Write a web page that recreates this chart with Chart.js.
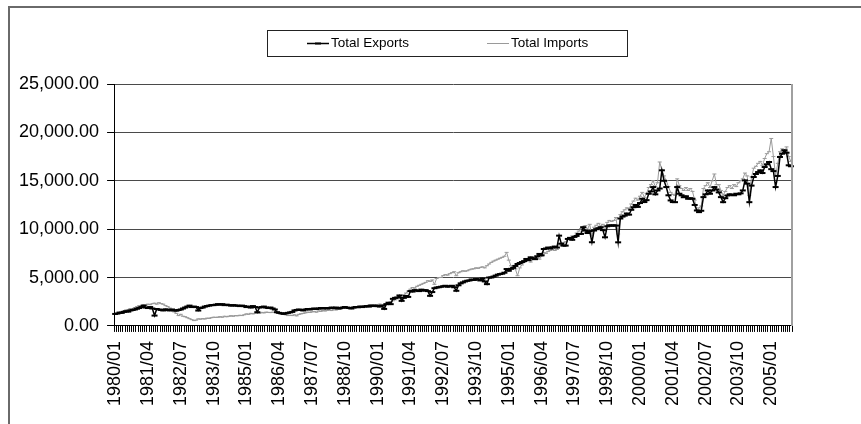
<!DOCTYPE html>
<html>
<head>
<meta charset="utf-8">
<title>Total Exports and Imports</title>
<script src="https://cdn.jsdelivr.net/npm/chart.js@4.4.1/dist/chart.umd.min.js"></script>
<style>
  html, body { margin: 0; padding: 0; background: #fff; overflow: hidden; }
  #frame { position: absolute; left: 8px; top: 6px; width: 1200px; height: 800px; border: 2px solid #6a6a6a; }
  #chart { position: absolute; left: 0; top: 0; }
</style>
</head>
<body>
<div id="frame"></div>
<canvas id="chart" width="861" height="424"></canvas>
<script>
// monthly series, 1980/01 .. 2005/10 (one row per year)
const startYear = 1980;
const monthCount = 310;
const labelStep = 15;

const exportsData = [
  1240, 1280, 1380, 1350, 1450, 1520, 1480, 1600, 1650, 1700, 1780, 1850,
  1950, 2100, 1900, 1850, 1950, 1800, 1070, 1750, 1700, 1650, 1600, 1720,
  1650, 1600, 1700, 1620, 1580, 1650, 1700, 1800, 1900, 2000, 2100, 1950,
  2000, 1950, 1590, 1850, 1900, 2000, 2050, 2100, 2150, 2150, 2200, 2250,
  2200, 2250, 2150, 2200, 2150, 2100, 2150, 2100, 2100, 2050, 2100, 2050,
  1950, 2000, 1900, 2050, 1950, 1420, 1900, 1950, 2000, 1900, 1850, 1900,
  1800, 1700, 1420, 1350, 1300, 1250, 1300, 1350, 1400, 1450, 1600, 1650,
  1700, 1650, 1600, 1700, 1750, 1700, 1760, 1800, 1750, 1800, 1850, 1800,
  1850, 1800, 1850, 1900, 1850, 1900, 1800, 1850, 1900, 1950, 1900, 1850,
  1800, 1900, 1950, 1930, 2000, 1950, 2000, 2050, 2000, 2100, 2050, 2100,
  2050, 2000, 2100, 1760, 2250, 2400, 2250, 2800, 2900, 2940, 3150, 2590,
  2900, 3100, 3000, 3600, 3550, 3700, 3650, 3600, 3750, 3650, 3700, 3600,
  3110, 3500, 3900, 3970, 4000, 4050, 4100, 4150, 4050, 4100, 4150, 4000,
  3630, 4200, 4400, 4500, 4600, 4670, 4700, 4800, 4750, 4840, 4800, 4700,
  4900, 4600, 4320, 5000, 5010, 5100, 5200, 5300, 5360, 5400, 5500, 5880,
  5700, 5900, 6000, 6200, 6400, 6500, 6600, 6700, 6920, 6800, 7090, 7000,
  6900, 7200, 7440, 7300, 7950, 8000, 8100, 8000, 8120, 8200, 8100, 9330,
  8500, 8300, 8300, 8990, 9100, 8900, 9200, 9300, 9500, 9510, 10200, 9850,
  9600, 9800, 8650, 9860, 10000, 10100, 10200, 9900, 9160, 10300, 10400, 10350,
  10400, 10370, 8640, 11100, 11300, 11400, 11620, 11500, 12000, 12270, 12500, 12300,
  12700, 13140, 12800, 13000, 13660, 13900, 14350, 13600, 14000, 14200, 16080, 15000,
  14350, 13500, 12970, 12800, 12790, 14350, 13660, 13500, 13300, 13400, 13140, 13200,
  13140, 12500, 11930, 11760, 11900, 13310, 13600, 14000, 13660, 14000, 14350, 14100,
  13800, 13310, 12790, 13200, 13480, 13600, 13550, 13500, 13660, 13600, 13700, 14000,
  15040, 14700, 12790, 14500, 15390, 15700, 15900, 16080, 15800, 16420, 16700, 16940,
  16200, 16000, 14350, 15500, 17460, 17800, 18150, 17900, 16600, 16500
];

const importsData = [
  1240, 1300, 1400, 1500, 1550, 1650, 1700, 1800, 1750, 1900, 2000, 2100,
  2050, 2200, 2150, 2250, 2200, 2300, 2350, 2250, 2400, 2300, 2250, 2100,
  2000, 1850, 1700, 1450, 1300, 1070, 1200, 1000, 950, 850, 750, 650,
  550, 600, 730, 700, 750, 720, 800, 780, 850, 900, 880, 900,
  950, 900, 1000, 950, 1000, 1050, 1000, 1070, 1050, 1100, 1070, 1150,
  1240, 1200, 1300, 1250, 1300, 1350, 1300, 1400, 1350, 1420, 1400, 1380,
  1420, 1380, 1350, 1300, 1250, 1200, 1150, 1070, 1100, 1070, 1150, 1040,
  1200, 1250, 1300, 1350, 1420, 1400, 1450, 1500, 1420, 1550, 1500, 1590,
  1550, 1600, 1650, 1590, 1700, 1650, 1760, 1700, 1800, 1850, 1800, 1900,
  1850, 1950, 1900, 2000, 2050, 2000, 2100, 2050, 2150, 2200, 2100, 2200,
  2150, 2250, 2200, 2200, 2300, 2400, 2500, 2600, 2700, 2800, 2950, 3110,
  3200, 3400, 3600, 3800, 3970, 3900, 4100, 4200, 4300, 4400, 4500, 4670,
  4600, 4750, 4300, 4900, 5000, 5010, 5200, 5300, 5250, 5400, 5500, 5600,
  5190, 5500, 5600, 5700, 5650, 5700, 5800, 5880, 5900, 6000, 5950, 6050,
  6100, 6000, 6220, 6400, 6570, 6700, 6800, 6900, 7000, 7090, 7200, 7600,
  6800, 6220, 6000, 5880, 5190, 6000, 6300, 6570, 6700, 6800, 6600, 6900,
  7000, 7090, 6900, 7200, 7600, 7500, 7700, 7800, 7950, 7800, 7900, 8500,
  8300, 8600, 8700, 9000, 9100, 9300, 9200, 9600, 9800, 10060, 10200, 10370,
  10000, 10500, 9300, 10200, 10400, 10600, 10300, 10500, 9800, 10700, 10900, 10800,
  10900, 11200, 9500, 11500, 11800, 12000, 12200, 12100, 12600, 12900, 13200, 13000,
  13400, 13800, 13300, 13700, 14300, 14600, 15000, 14400, 14800, 16940, 16080, 15500,
  15000, 14400, 13800, 13600, 13500, 15200, 14500, 14200, 14000, 14300, 14000, 14200,
  13900, 13000, 12000, 12200, 12400, 14200, 14500, 14800, 14300, 15000, 15700, 14600,
  14600, 14000, 13500, 13900, 14300, 14500, 14200, 14600, 14400, 14800, 15000, 15200,
  15800, 15500, 13500, 15400, 16300, 16500, 16800, 17000, 16600, 17300, 17800, 18000,
  19370, 17500, 15500, 16800, 18000, 18300, 17800, 18500, 17500, 17000
];

const yTicks = [0, 5000, 10000, 15000, 20000, 25000];

// category labels like 1980/01
const months = [];
for (let i = 0; i < monthCount; i++) {
  const y = startYear + Math.floor(i / 12);
  const m = (i % 12) + 1;
  months.push(y + '/' + (m < 10 ? '0' + m : m));
}

const FONT = "'Liberation Sans', Arial, sans-serif";

// Excel style framed legend + grey plot edge
const frameLegend = {
  id: 'frameLegend',
  afterDraw(chart) {
    const ctx = chart.ctx;
    const area = chart.chartArea;
    ctx.save();

    ctx.strokeStyle = '#a0a0a0';
    ctx.lineWidth = 2;
    ctx.beginPath();
    ctx.moveTo(area.right, area.top);
    ctx.lineTo(area.right, area.bottom);
    ctx.stroke();

    ctx.strokeStyle = '#222';
    ctx.lineWidth = 1;
    ctx.strokeRect(267.5, 30.5, 360, 26);

    ctx.font = '13.5px ' + FONT;
    ctx.textBaseline = 'middle';
    ctx.textAlign = 'left';
    chart.data.datasets.forEach((ds, i) => {
      const x = 307 + i * 180;
      const y = 43.5;
      ctx.strokeStyle = ds.borderColor;
      ctx.lineWidth = ds.borderWidth;
      ctx.beginPath();
      ctx.moveTo(x, y);
      ctx.lineTo(x + 22, y);
      ctx.stroke();
      ctx.lineWidth = ds.pointBorderWidth;
      ctx.beginPath();
      ctx.moveTo(x + 11 - ds.pointRadius, y);
      ctx.lineTo(x + 11 + ds.pointRadius, y);
      ctx.stroke();
      ctx.fillStyle = '#000';
      ctx.fillText(ds.label, x + 24, y);
    });
    ctx.restore();
  }
};

new Chart(document.getElementById('chart'), {
  type: 'line',
  data: {
    labels: months,
    datasets: [{
      label: 'Total Exports',
      data: exportsData,
      borderColor: '#000',
      borderWidth: 1.5,
      pointStyle: 'line',
      pointRadius: 3,
      pointBorderWidth: 2,
      pointBorderColor: '#000',
      tension: 0
    }, {
      label: 'Total Imports',
      data: importsData,
      borderColor: '#9a9a9a',
      borderWidth: 1,
      pointStyle: 'line',
      pointRadius: 2,
      pointBorderWidth: 1,
      pointBorderColor: '#9a9a9a',
      tension: 0
    }]
  },
  options: {
    responsive: false,
    animation: false,
    devicePixelRatio: 1,
    layout: { padding: { left: 11, right: 69, top: 84, bottom: 9 } },
    plugins: {
      legend: { display: false },
      tooltip: { enabled: false }
    },
    scales: {
      x: {
        offset: true,
        grid: { drawOnChartArea: false, drawTicks: true, tickLength: 6, color: '#000', offset: true },
        border: { color: '#000', width: 1 },
        ticks: {
          autoSkip: false,
          minRotation: 90,
          maxRotation: 90,
          padding: 9,
          color: '#000',
          font: { family: FONT, size: 18 },
          callback: function (v, i) {
            return i % labelStep === 0 ? this.getLabelForValue(v) : '';
          }
        }
      },
      y: {
        min: yTicks[0],
        max: yTicks[yTicks.length - 1],
        afterBuildTicks: axis => { axis.ticks = yTicks.map(v => ({ value: v })); },
        grid: { color: '#4a4a4a', tickColor: '#000', tickLength: 7 },
        border: { color: '#000', width: 1 },
        ticks: {
          padding: 8,
          color: '#000',
          font: { family: FONT, size: 18 },
          callback: v => v.toLocaleString('en-US', { minimumFractionDigits: 2, maximumFractionDigits: 2 })
        }
      }
    }
  },
  plugins: [frameLegend]
});
</script>
</body>
</html>
